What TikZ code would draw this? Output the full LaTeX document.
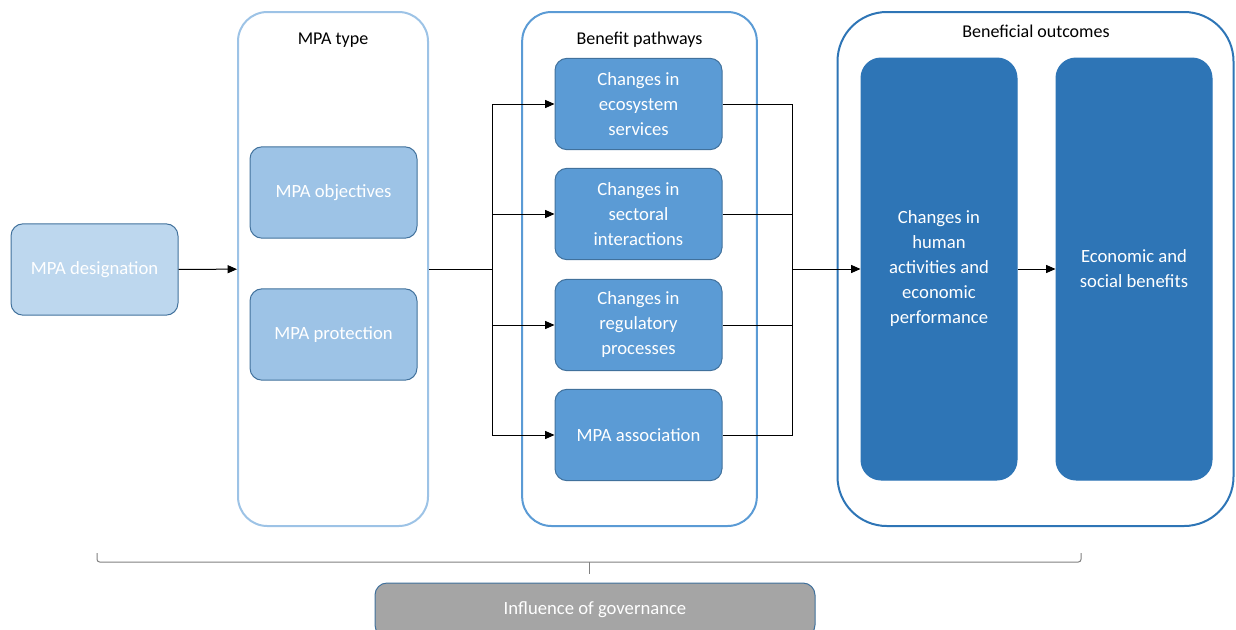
\documentclass[tikz,border=0pt]{standalone}
\usepackage{fontspec}
\setmainfont{Carlito}
\usetikzlibrary{arrows.meta}
\definecolor{paleblue}{HTML}{BDD7EE}
\definecolor{lightblue}{HTML}{9DC3E6}
\definecolor{midblue}{HTML}{5B9BD5}
\definecolor{darkblue}{HTML}{2E75B6}
\definecolor{edgeblue}{HTML}{41719C}
\definecolor{govgrey}{HTML}{A5A5A5}
\definecolor{bracegrey}{HTML}{808080}

\begin{document}
\begin{tikzpicture}[x=0.75pt, y=-0.75pt,
    box/.style={draw=edgeblue, line width=0.75pt, rounded corners=9pt, text=white, align=center,
      inner sep=0pt, font=\fontsize{14}{18.75}\selectfont, minimum width=125.25pt, minimum height=68.5pt},
    tall/.style={box, draw=darkblue, fill=darkblue, rounded corners=15pt, minimum width=117pt, minimum height=316.5pt},
    group/.style={line width=1.5pt, rounded corners=22pt, inner sep=0pt, minimum height=385.5pt},
    title/.style={font=\fontsize{13.5}{16}\selectfont},
    link/.style={line width=0.75pt, -{Triangle[length=7pt,width=6pt]}}]
    \clip (0,0) rectangle (1236,629);

    \node[group, draw=lightblue, minimum width=142.5pt] at (333,269) (typebox) {};
    \node[group, draw=midblue, minimum width=176pt] at (639.5,269) (pathbox) {};
    \node[group, draw=darkblue, rounded corners=37pt, minimum width=297pt] at (1035.5,269) (outbox) {};
    \node[title] at (333,40) (typetitle) {MPA type};
    \node[title] at (639.5,40) (pathtitle) {Benefit pathways};
    \node[title] at (1036,31) (outtitle) {Beneficial outcomes};

    \node[box, fill=paleblue] at (94.5,269.5) (desig) {MPA designation};
    \node[box, fill=lightblue] at (333.5,192.5) (obj) {MPA objectives};
    \node[box, fill=lightblue] at (333.5,334.5) (prot) {MPA protection};

    \node[box, fill=midblue] at (638.5,104) (eco) {Changes in\\ecosystem\\services};
    \node[box, fill=midblue] at (638.5,214) (sec) {Changes in\\sectoral\\interactions};
    \node[box, fill=midblue] at (638.5,325) (reg) {Changes in\\regulatory\\processes};
    \node[box, fill=midblue] at (638.5,435) (assoc) {MPA association};

    \node[tall] at (939,269) (human) {Changes in\\human\\activities and\\economic\\performance};
    \node[tall] at (1134,269) (econ) {Economic and\\social benefits};

    \node[box, fill=govgrey, minimum width=330pt, minimum height=40.5pt] at (595,610) (gov) {Influence of governance};

    \coordinate (split) at (492,269);
    \coordinate (merge) at (792,269);

    \draw[link] (desig) -- (typebox);
    \draw[line width=0.75pt] (typebox.east) -- (split);
    \draw[link] (split) |- (eco);
    \draw[link] (split) |- (sec);
    \draw[link] (split) |- (reg);
    \draw[link] (split) |- (assoc);
    \draw[line width=0.75pt] (eco) -| (merge);
    \draw[line width=0.75pt] (sec) -| (merge);
    \draw[line width=0.75pt] (reg) -| (merge);
    \draw[line width=0.75pt] (assoc) -| (merge);
    \draw[link] (merge) -- (human);
    \draw[link] (human) -- (econ);

    \draw[bracegrey, line width=0.75pt, rounded corners=2pt] (97,553) -- (97,562) -- (1081,562) -- (1081,553);
    \draw[bracegrey, line width=0.75pt] (589,562) -- (589,574);
\end{tikzpicture}
\end{document}
